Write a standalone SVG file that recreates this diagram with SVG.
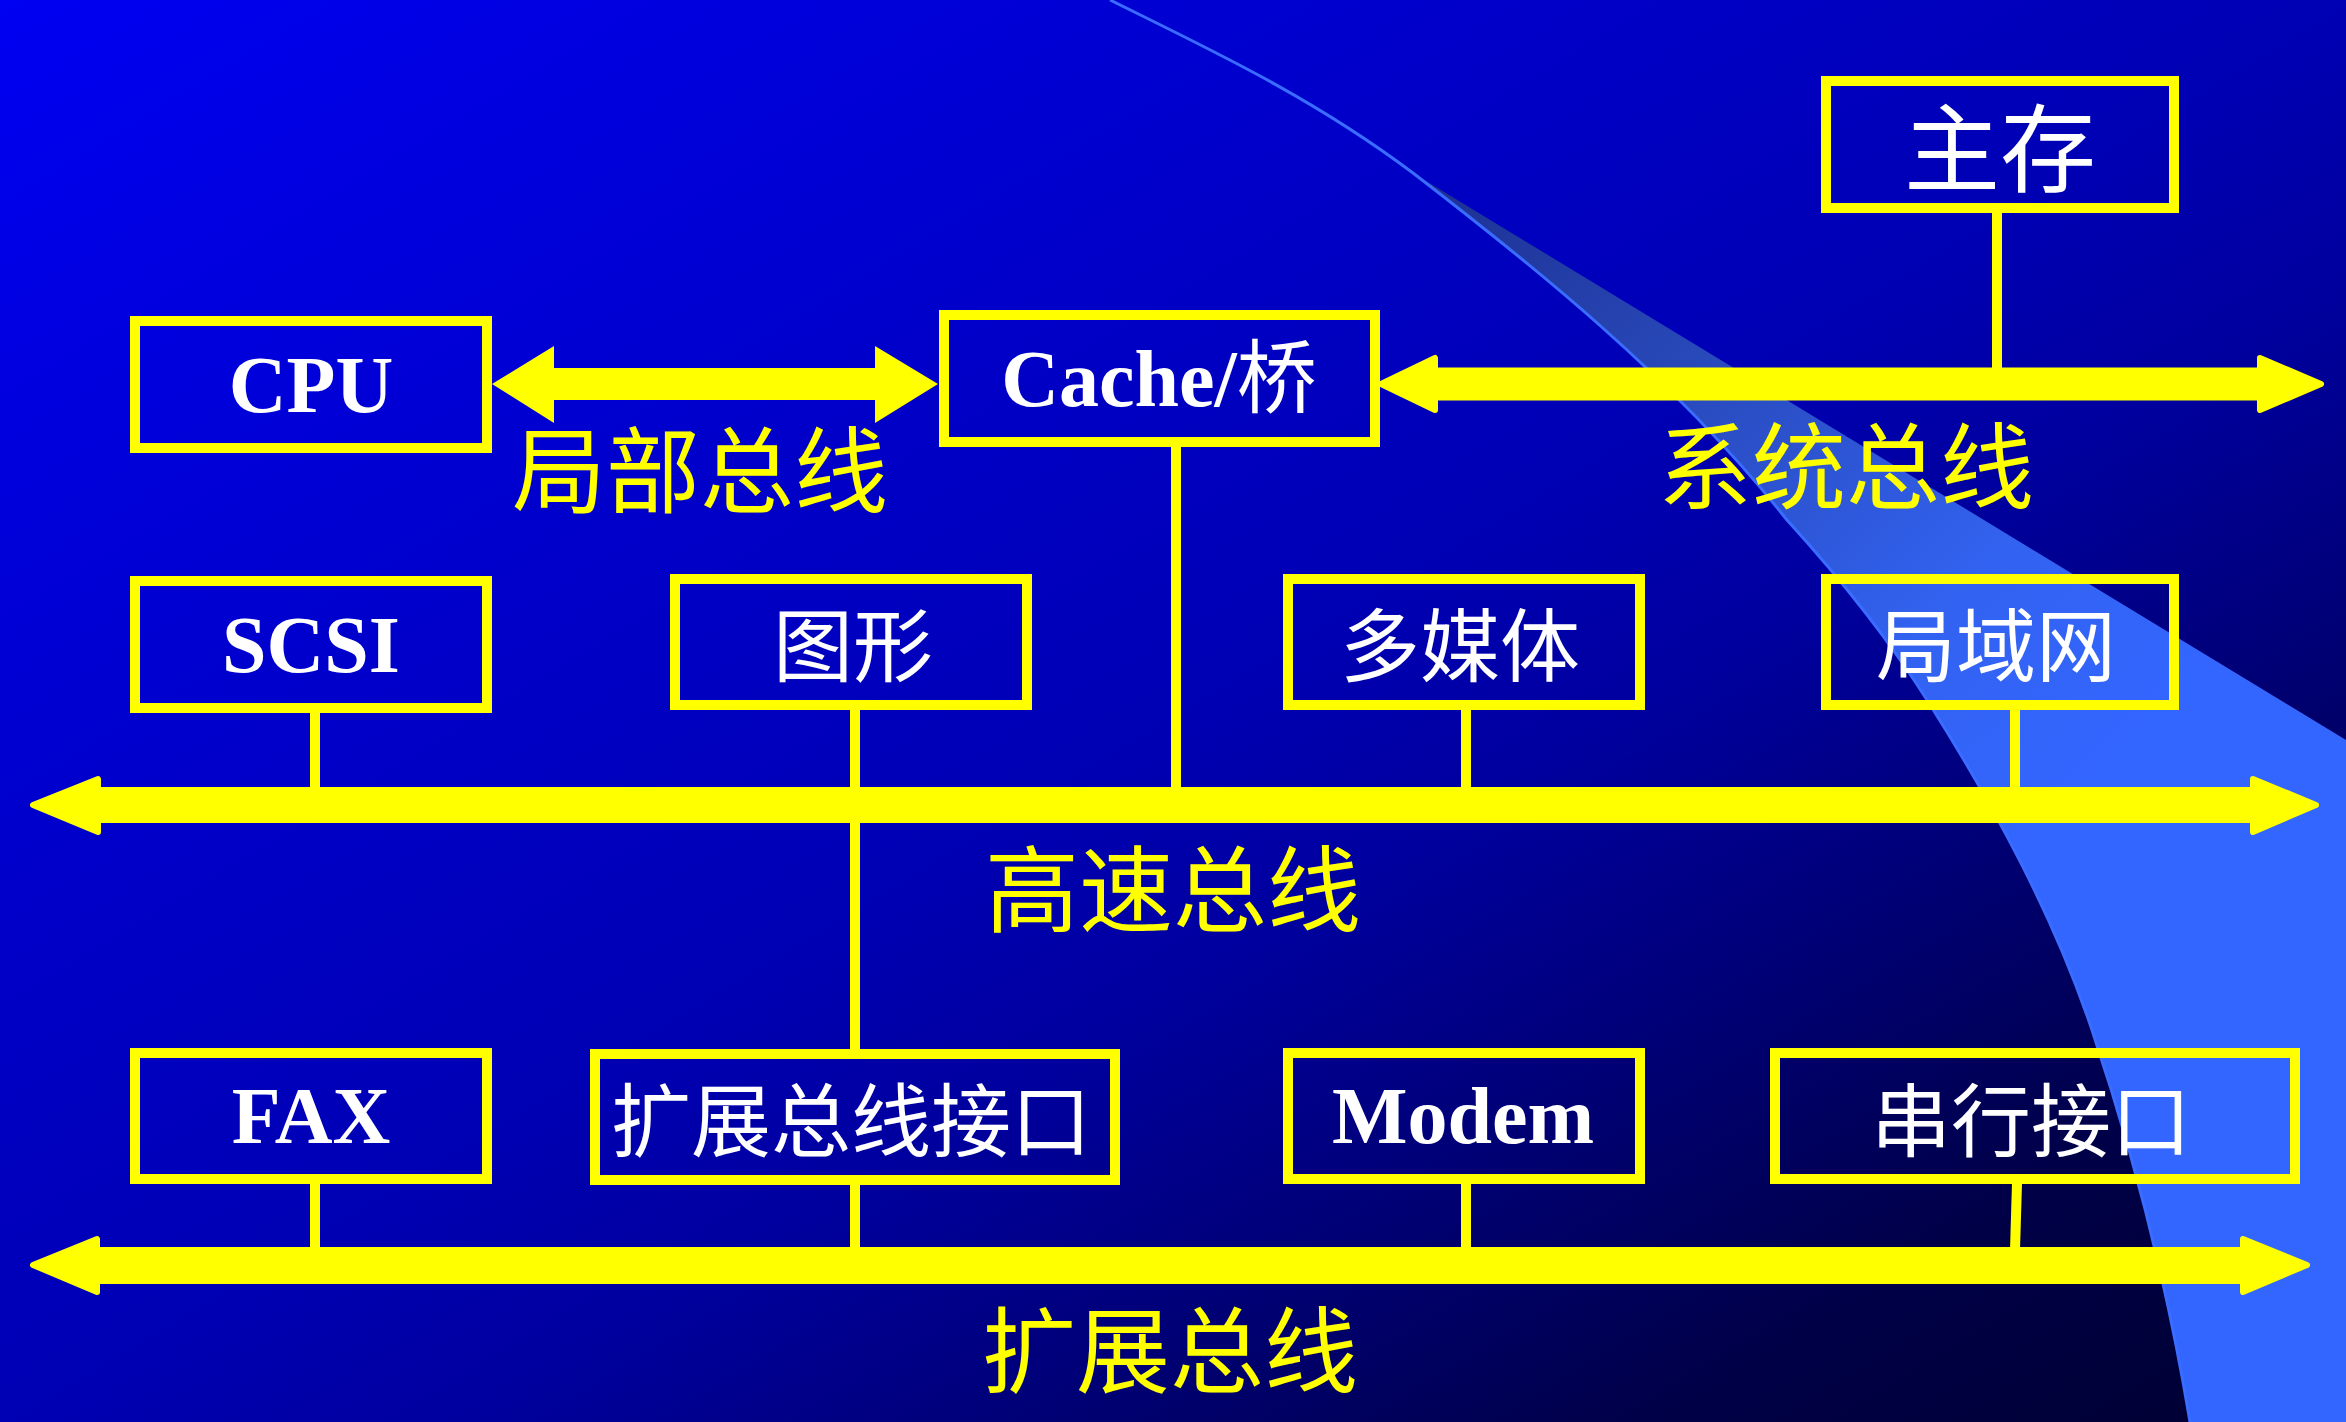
<svg xmlns="http://www.w3.org/2000/svg" width="2346" height="1422" viewBox="0 0 2346 1422">
  <defs>
    <linearGradient id="bg" x1="0" y1="0" x2="1" y2="1">
      <stop offset="0" stop-color="#0000f2"/>
      <stop offset="0.12" stop-color="#0000e2"/>
      <stop offset="0.5" stop-color="#0000b4"/>
      <stop offset="0.6" stop-color="#00009e"/>
      <stop offset="0.7" stop-color="#00007c"/>
      <stop offset="0.85" stop-color="#000048"/>
      <stop offset="1" stop-color="#000030"/>
    </linearGradient>
    <linearGradient id="band" x1="1413" y1="173" x2="2050" y2="820" gradientUnits="userSpaceOnUse">
      <stop offset="0" stop-color="#1c2f90"/>
      <stop offset="0.35" stop-color="#2848b8"/>
      <stop offset="0.75" stop-color="#3262f0"/>
      <stop offset="1" stop-color="#3366ff"/>
    </linearGradient>
    <style>
      .box { fill: none; stroke: #ffff00; stroke-width: 10; }
      .conn { stroke: #ffff00; stroke-width: 10; fill: none; }
      .bus { fill: #ffff00; stroke: #ffff00; stroke-width: 6; stroke-linejoin: round; }
      .lat { font-family: "Liberation Serif", "Noto Sans CJK SC", serif; font-weight: bold; font-size: 80px; fill: #ffffff; text-anchor: middle; }
      .cjk { font-family: "Noto Sans CJK SC", sans-serif; font-size: 80px; fill: #ffffff; text-anchor: middle; dominant-baseline: central; }
      .lbl { font-family: "Noto Sans CJK SC", sans-serif; font-size: 94px; fill: #ffff00; text-anchor: middle; dominant-baseline: central; }
    </style>
  </defs>

  <g id="background">
    <rect x="0" y="0" width="2346" height="1422" fill="url(#bg)"/>
    <path d="M1413,173 C1526,260 1674,377 1787,520 C1839,577 1888,638 1929,703 C1994,806 2053,914 2092,1030 C2135,1158 2168,1289 2190,1422 L2346,1422 L2346,740 Z" fill="url(#band)"/>
    <path d="M1110,0 C1211,50 1312,97 1413,173 C1526,260 1674,377 1787,520 C1839,577 1888,638 1929,703 C1994,806 2053,914 2092,1030 C2135,1158 2168,1289 2190,1422" fill="none" stroke="#3a6cff" stroke-width="3"/>
  </g>

  <g id="connectors">
    <line class="conn" x1="1997" y1="213" x2="1997" y2="370"/>
    <line class="conn" x1="1176" y1="447" x2="1176" y2="790"/>
    <line class="conn" x1="315" y1="713" x2="315" y2="790"/>
    <line class="conn" x1="855" y1="710" x2="855" y2="1050"/>
    <line class="conn" x1="1466" y1="709" x2="1466" y2="790"/>
    <line class="conn" x1="2015" y1="710" x2="2015" y2="790"/>
    <line class="conn" x1="315" y1="1184" x2="315" y2="1250"/>
    <line class="conn" x1="855" y1="1185" x2="855" y2="1250"/>
    <line class="conn" x1="1466" y1="1184" x2="1466" y2="1250"/>
    <line class="conn" x1="2017" y1="1183" x2="2015" y2="1250"/>
    <path id="local-bus" d="M492,384 L554,346 L554,368 L875,368 L875,346 L938,384 L875,423 L875,400 L554,400 L554,423 Z" fill="#ffff00"/>
    <path id="system-bus" class="bus" d="M1381,384 L1435,358 L1435,370.5 L2260,370.5 L2260,358 L2321,384 L2260,410 L2260,397.5 L1435,397.5 L1435,410 Z"/>
    <path id="highspeed-bus" class="bus" d="M33,805 L98,779 L98,790 L2253,790 L2253,779 L2316,805 L2253,832 L2253,820 L98,820 L98,832 Z"/>
    <path id="expansion-bus" class="bus" d="M33,1265 L97,1239 L97,1250 L2243,1250 L2243,1239 L2307,1265 L2243,1292 L2243,1281 L97,1281 L97,1292 Z"/>
  </g>

  <g id="labels">
    <text class="lbl" x="700" y="465">局部总线</text>
    <text class="lbl" x="1846" y="461">系统总线</text>
    <text class="lbl" x="1173" y="884">高速总线</text>
    <text class="lbl" x="1170" y="1345">扩展总线</text>
  </g>

  <g id="node-cpu">
    <rect class="box" x="135" y="321" width="352" height="127"/>
    <text class="lat" x="311" y="412">CPU</text>
  </g>
  <g id="node-cache">
    <rect class="box" x="944" y="315" width="431" height="127"/>
    <text class="lat" x="1159" y="406">Cache/<tspan style="font-family:'Noto Sans CJK SC',sans-serif;font-weight:normal">桥</tspan></text>
  </g>
  <g id="node-mainmem">
    <rect class="box" x="1826" y="81" width="348" height="127"/>
    <text class="cjk" x="2000" y="142" style="font-size:96px">主存</text>
  </g>
  <g id="node-scsi">
    <rect class="box" x="135" y="581" width="352" height="127"/>
    <text class="lat" x="311" y="672">SCSI</text>
  </g>
  <g id="node-graphics">
    <rect class="box" x="675" y="579" width="352" height="126"/>
    <text class="cjk" x="853" y="640">图形</text>
  </g>
  <g id="node-multimedia">
    <rect class="box" x="1288" y="579" width="352" height="126"/>
    <text class="cjk" x="1460" y="640">多媒体</text>
  </g>
  <g id="node-lan">
    <rect class="box" x="1826" y="579" width="348" height="126"/>
    <text class="cjk" x="1996" y="640">局域网</text>
  </g>
  <g id="node-fax">
    <rect class="box" x="135" y="1053" width="352" height="126"/>
    <text class="lat" x="311" y="1143">FAX</text>
  </g>
  <g id="node-expif">
    <rect class="box" x="595" y="1054" width="520" height="126"/>
    <text class="cjk" x="851" y="1115">扩展总线接口</text>
  </g>
  <g id="node-modem">
    <rect class="box" x="1288" y="1053" width="352" height="126"/>
    <text class="lat" x="1463" y="1143">Modem</text>
  </g>
  <g id="node-serial">
    <rect class="box" x="1775" y="1053" width="520" height="126"/>
    <text class="cjk" x="2031" y="1115">串行接口</text>
  </g>
</svg>
